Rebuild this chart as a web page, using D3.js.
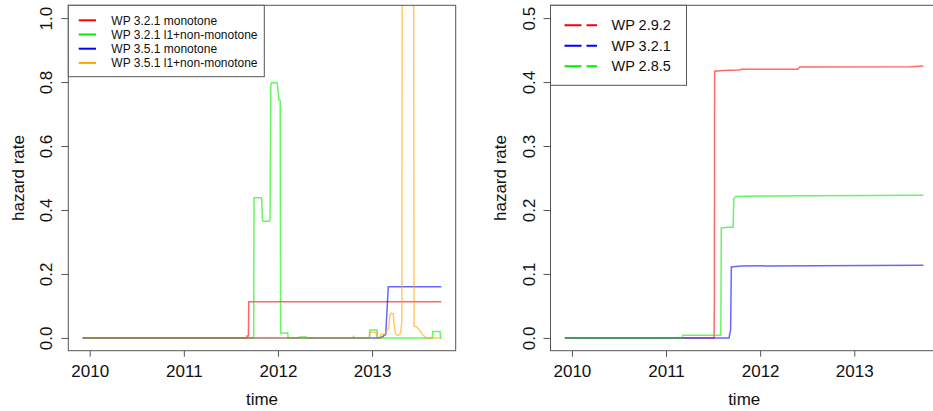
<!DOCTYPE html>
<html>
<head>
<meta charset="utf-8">
<script src="https://cdnjs.cloudflare.com/ajax/libs/d3/7.8.5/d3.min.js"></script>
<style>
body { margin: 0; background: #fff; }
text { font-family: "Liberation Sans", Arial, sans-serif; fill: #111; }
</style>
</head>
<body>
<div id="chart"></div>
<script>
// tick labels
var xTicks = [2010, 2011, 2012, 2013];
var leftYTicks = [0, 0.2, 0.4, 0.6, 0.8, 1.0];
var rightYTicks = [0, 0.1, 0.2, 0.3, 0.4, 0.5];

// legend entries
var leftNames = ['WP 3.2.1 monotone', 'WP 3.2.1 l1+non-monotone', 'WP 3.5.1 monotone', 'WP 3.5.1 l1+non-monotone'];
var leftColors = ['#ff0000', '#00ee00', '#0000ff', '#ffa500'];
var rightNames = ['WP 2.9.2', 'WP 3.2.1', 'WP 2.8.5'];
var rightColors = ['#ff0000', '#0000ff', '#00ee00'];

// left panel series: [time (years), hazard rate]
var wp321Mono = [[2009.925,0],[2011.668,0],[2011.672,0.006],[2011.686,0.006],[2011.690,0.113],[2013.736,0.113]];
var wp321L1 = [[2009.925,0],[2011.742,0],[2011.746,0.438],[2011.822,0.438],[2011.828,0.43],[2011.836,0.368],[2011.842,0.365],
	[2011.910,0.365],[2011.916,0.374],[2011.924,0.79],[2011.931,0.798],[2011.990,0.798],[2011.996,0.79],[2012.010,0.745],
	[2012.024,0.743],[2012.028,0.015],[2012.104,0.015],[2012.108,0],[2012.221,0],[2012.224,0.003],[2012.300,0.003],
	[2012.303,0],[2012.800,0],[2012.803,0.004],[2012.812,0],[2012.972,0],[2012.976,0.025],[2013.052,0.025],[2013.057,0],
	[2013.640,0],[2013.645,0.02],[2013.722,0.02],[2013.728,0],[2013.736,0]];
var wp351Mono = [[2009.925,0],[2013.085,0],[2013.090,0.003],[2013.120,0.004],[2013.124,0.008],[2013.145,0.01],
	[2013.172,0.16],[2013.180,0.16],[2013.736,0.16]];
var wp351L1 = [[2009.925,0],[2012.972,0],[2012.976,0.018],[2013.040,0.018],[2013.050,0.006],[2013.060,0],[2013.085,0],
	[2013.090,0.01],[2013.140,0.012],[2013.150,0.02],[2013.175,0.03],[2013.190,0.07],[2013.200,0.077],[2013.225,0.076],
	[2013.235,0.04],[2013.250,0.012],[2013.270,0.008],[2013.295,0.01],[2013.305,0.02],[2013.316,0.05],[2013.322,1.6],
	[2013.440,1.6],[2013.446,0.037],[2013.470,0.035],[2013.486,0.03],[2013.505,0.024],[2013.517,0.02],[2013.530,0.012],
	[2013.555,0.005],[2013.570,0],[2013.736,0]];

// right panel series
var wp292 = [[2009.925,0],[2011.510,0],[2011.514,0.06],[2011.516,0.417],[2011.600,0.418],[2011.780,0.419],[2011.800,0.42],
	[2012.400,0.42],[2012.420,0.4235],[2013.600,0.424],[2013.734,0.425]];
var wp321 = [[2009.925,0],[2011.670,0],[2011.676,0.006],[2011.686,0.012],[2011.694,0.111],[2011.800,0.1125],[2013.734,0.1135]];
var wp285 = [[2009.925,0],[2011.172,0],[2011.176,0.004],[2011.582,0.004],[2011.587,0.172],[2011.660,0.173],[2011.713,0.173],
	[2011.720,0.218],[2011.740,0.221],[2012.000,0.222],[2013.734,0.223]];

var width = 933;
var height = 411;
var svg = d3.select('#chart').append('svg')
	.attr('width', width).attr('height', height);
svg.append('rect').attr('width', width).attr('height', height).attr('fill', '#fff');

function drawPanel(left, yMax, yTicks, series, colors, names, legend){
	var top = 5.3, bottom = 350.7, W = 387.4;
	var pad = (2013.736 - 2009.925) * 0.04;
	var x = d3.scaleLinear().domain([2009.925 - pad, 2013.736 + pad]).range([left, left + W]);
	var y = d3.scaleLinear().domain([-0.04 * yMax, 1.04 * yMax]).range([bottom, top]);
	var id = 'clip' + Math.round(left);

	svg.append('clipPath').attr('id', id).append('rect')
		.attr('x', left).attr('y', top).attr('width', W).attr('height', bottom - top);

	var line = d3.line()
		.x(function(d){ return x(d[0]); })
		.y(function(d){ return y(d[1]); });

	var g = svg.append('g').attr('clip-path', 'url(#' + id + ')');
	g.selectAll('path').data(series).enter().append('path')
		.attr('d', line)
		.attr('fill', 'none')
		.attr('stroke', function(d, i){ return colors[i]; })
		.attr('stroke-opacity', 0.6)
		.attr('stroke-width', 1.5);

	// frame
	svg.append('rect')
		.attr('x', left).attr('y', top).attr('width', W).attr('height', bottom - top)
		.attr('fill', 'none').attr('stroke', '#555').attr('stroke-width', 1);

	var xAxis = svg.append('g')
		.attr('transform', 'translate(0,' + bottom + ')')
		.call(d3.axisBottom(x).tickValues(xTicks).tickSize(6).tickFormat(d3.format('d')));
	xAxis.select('.domain').remove();
	xAxis.selectAll('line').attr('stroke', '#555');
	xAxis.selectAll('text').attr('y', 26).attr('dy', 0)
		.attr('font-size', 17).attr('font-family', null).attr('fill', '#111');

	var yAxis = svg.append('g')
		.attr('transform', 'translate(' + left + ',0)')
		.call(d3.axisLeft(y).tickValues(yTicks).tickSize(7).tickFormat(d3.format('.1f')));
	yAxis.select('.domain').remove();
	yAxis.selectAll('line').attr('stroke', '#555');
	yAxis.selectAll('text')
		.attr('transform', 'rotate(-90)')
		.attr('x', 0).attr('y', -16).attr('dy', 0)
		.attr('text-anchor', 'middle')
		.attr('font-size', 17).attr('font-family', null).attr('fill', '#111');

	svg.append('text')
		.attr('x', left + W / 2).attr('y', 405)
		.attr('text-anchor', 'middle')
		.attr('font-size', 17)
		.text('time');

	svg.append('text')
		.attr('transform', 'translate(' + (left - 44.5) + ',' + ((top + bottom) / 2) + ') rotate(-90)')
		.attr('text-anchor', 'middle')
		.attr('font-size', 17)
		.text('hazard rate');

	// legend
	var lg = svg.append('g');
	lg.append('rect')
		.attr('x', left).attr('y', top).attr('width', legend.w).attr('height', legend.h)
		.attr('fill', '#fff').attr('stroke', '#555').attr('stroke-width', 1);
	var item = lg.selectAll('.legend-item').data(names).enter().append('g')
		.attr('class', 'legend-item')
		.attr('transform', function(d, i){
			return 'translate(' + [left, legend.y0 + i * legend.dy] + ')';
		});
	item.append('line')
		.attr('x1', legend.l1).attr('x2', legend.l2)
		.attr('stroke', function(d, i){ return colors[i]; })
		.attr('stroke-width', 2)
		.attr('stroke-dasharray', legend.dash);
	item.append('text')
		.attr('x', legend.tx)
		.attr('dy', '0.35em')
		.attr('font-size', legend.fs)
		.text(function(d){ return d; });
}

drawPanel(68.3, 1.0, leftYTicks, [wp321Mono, wp321L1, wp351Mono, wp351L1], leftColors, leftNames,
	{w: 196, h: 71.4, y0: 20.3, dy: 14.2, l1: 10.4, l2: 27.7, tx: 43, fs: 12, dash: null});
drawPanel(550.5, 0.5, rightYTicks, [wp292, wp321, wp285], rightColors, rightNames,
	{w: 136, h: 80, y0: 25.3, dy: 20.5, l1: 14, l2: 46.5, tx: 61, fs: 14.5, dash: '17,5'});
</script>
</body>
</html>
